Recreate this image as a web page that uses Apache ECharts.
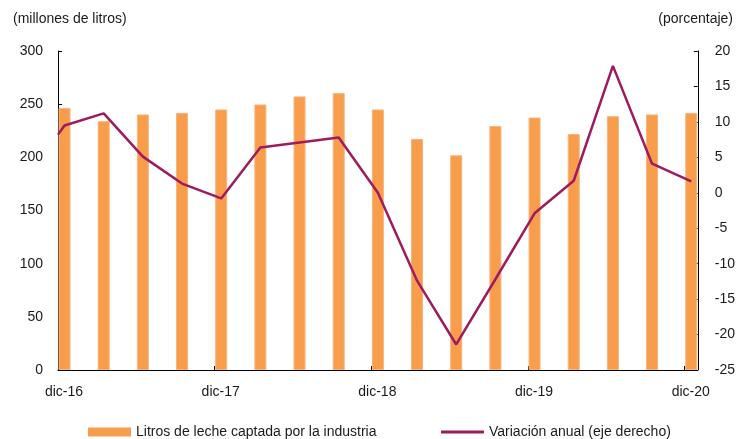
<!DOCTYPE html>
<html>
<head>
<meta charset="utf-8">
<script src="https://cdn.jsdelivr.net/npm/echarts@6/dist/echarts.min.js"></script>
<style>
  html, body { margin: 0; padding: 0; background: #fff; }
  #chart { width: 738px; height: 439px; }
</style>
</head>
<body>
<div id="chart"></div>
<script>
// trimestres (eje mensual, las barras caen en el mes del trimestre)
var trimestres = ['dic-16', 'mar-17', 'jun-17', 'sep-17', 'dic-17', 'mar-18', 'jun-18', 'sep-18',
  'dic-18', 'mar-19', 'jun-19', 'sep-19', 'dic-19', 'mar-20', 'jun-20', 'sep-20', 'dic-20'];
var etiquetasAnio = ['dic-16', 'dic-17', 'dic-18', 'dic-19', 'dic-20'];

// millones de litros
var litros = [246.5, 234, 240.3, 241.8, 245, 249.7, 257.3, 260.4,
  245, 217.3, 201.9, 229.5, 237.4, 222, 238.7, 240.3, 241.8];

// variacion anual (%)
var variacion = [9.5, 11.2, 5.1, 1.3, -0.8, 6.4, 7.1, 7.8,
  0.0, -12.4, -21.4, -12.2, -2.9, 1.7, 17.9, 4.1, 1.6];
var variacionInicio = 8.2; // valor en el borde izquierdo del eje

var textColor = '#1a1a1a';
var font = 'Liberation Sans, Arial, sans-serif';
var naranja = '#F79D4B';
var morado = '#9D1B5E';

// posicion en meses desde dic-16 (centro del mes)
function mes(i) { return i * 3 + 0.5; }

var barData = litros.map(function (v, i) { return [mes(i), v]; });
var lineData = [[0, variacionInicio]].concat(variacion.map(function (v, i) { return [mes(i), v]; }));

var chart = echarts.init(document.getElementById('chart'));

chart.setOption({
  animation: false,
  textStyle: { fontFamily: font },
  grid: { left: 58, right: 38, top: 51, bottom: 69 },
  graphic: [
    { type: 'text', left: 13, top: 12, style: { text: '(millones de litros)', font: '14px ' + font, fill: textColor } },
    { type: 'text', right: 5, top: 12, style: { text: '(porcentaje)', font: '14px ' + font, fill: textColor } }
  ],
  legend: [
    {
      left: 83, top: 420,
      data: [{ name: 'Litros de leche captada por la industria', icon: 'rect' }],
      itemWidth: 43, itemHeight: 9, itemGap: 0,
      itemStyle: { color: naranja, borderWidth: 0 },
      textStyle: { fontSize: 14, color: textColor, fontFamily: font }
    },
    {
      left: 436, top: 420,
      data: [{ name: 'Variación anual (eje derecho)', icon: 'rect' }],
      itemWidth: 43, itemHeight: 3, itemGap: 0,
      itemStyle: { color: morado, borderWidth: 0 },
      lineStyle: { width: 0 },
      textStyle: { fontSize: 14, color: textColor, fontFamily: font }
    }
  ],
  xAxis: {
    type: 'value',
    min: 0, max: 49, interval: 12,
    splitLine: { show: false },
    axisLine: { show: true, onZero: false, lineStyle: { color: '#000', width: 1 } },
    axisTick: { show: true, inside: true, length: 4, lineStyle: { color: '#000' } },
    axisLabel: {
      fontSize: 14, color: textColor, margin: 15,
      padding: [0, 0, 0, 12],
      showMaxLabel: false,
      formatter: function (v) {
        return (v % 12 === 0 && v / 12 < etiquetasAnio.length) ? etiquetasAnio[v / 12] : '';
      }
    }
  },
  yAxis: [
    {
      type: 'value', min: 0, max: 300, interval: 50,
      splitLine: { show: false },
      axisLine: { show: true, lineStyle: { color: '#000', width: 1 } },
      axisTick: { show: true, inside: true, length: 4, lineStyle: { color: '#000' } },
      axisLabel: { fontSize: 14, color: textColor, margin: 15 }
    },
    {
      type: 'value', min: -25, max: 20, interval: 5, position: 'right',
      splitLine: { show: false },
      axisLine: { show: true, lineStyle: { color: '#000', width: 1 } },
      axisTick: { show: true, inside: true, length: 4, lineStyle: { color: '#000' } },
      axisLabel: { fontSize: 14, color: textColor, margin: 17 }
    }
  ],
  series: [
    {
      name: 'Litros de leche captada por la industria',
      type: 'bar',
      yAxisIndex: 0,
      barWidth: 12,
      data: barData,
      itemStyle: { color: naranja, borderColor: '#F9B47A', borderWidth: 1 },
      z: 2
    },
    {
      name: 'Variación anual (eje derecho)',
      type: 'line',
      yAxisIndex: 1,
      data: lineData,
      symbol: 'none',
      lineStyle: { color: morado, width: 2.5 },
      itemStyle: { color: morado },
      z: 3
    }
  ]
});
</script>
</body>
</html>
